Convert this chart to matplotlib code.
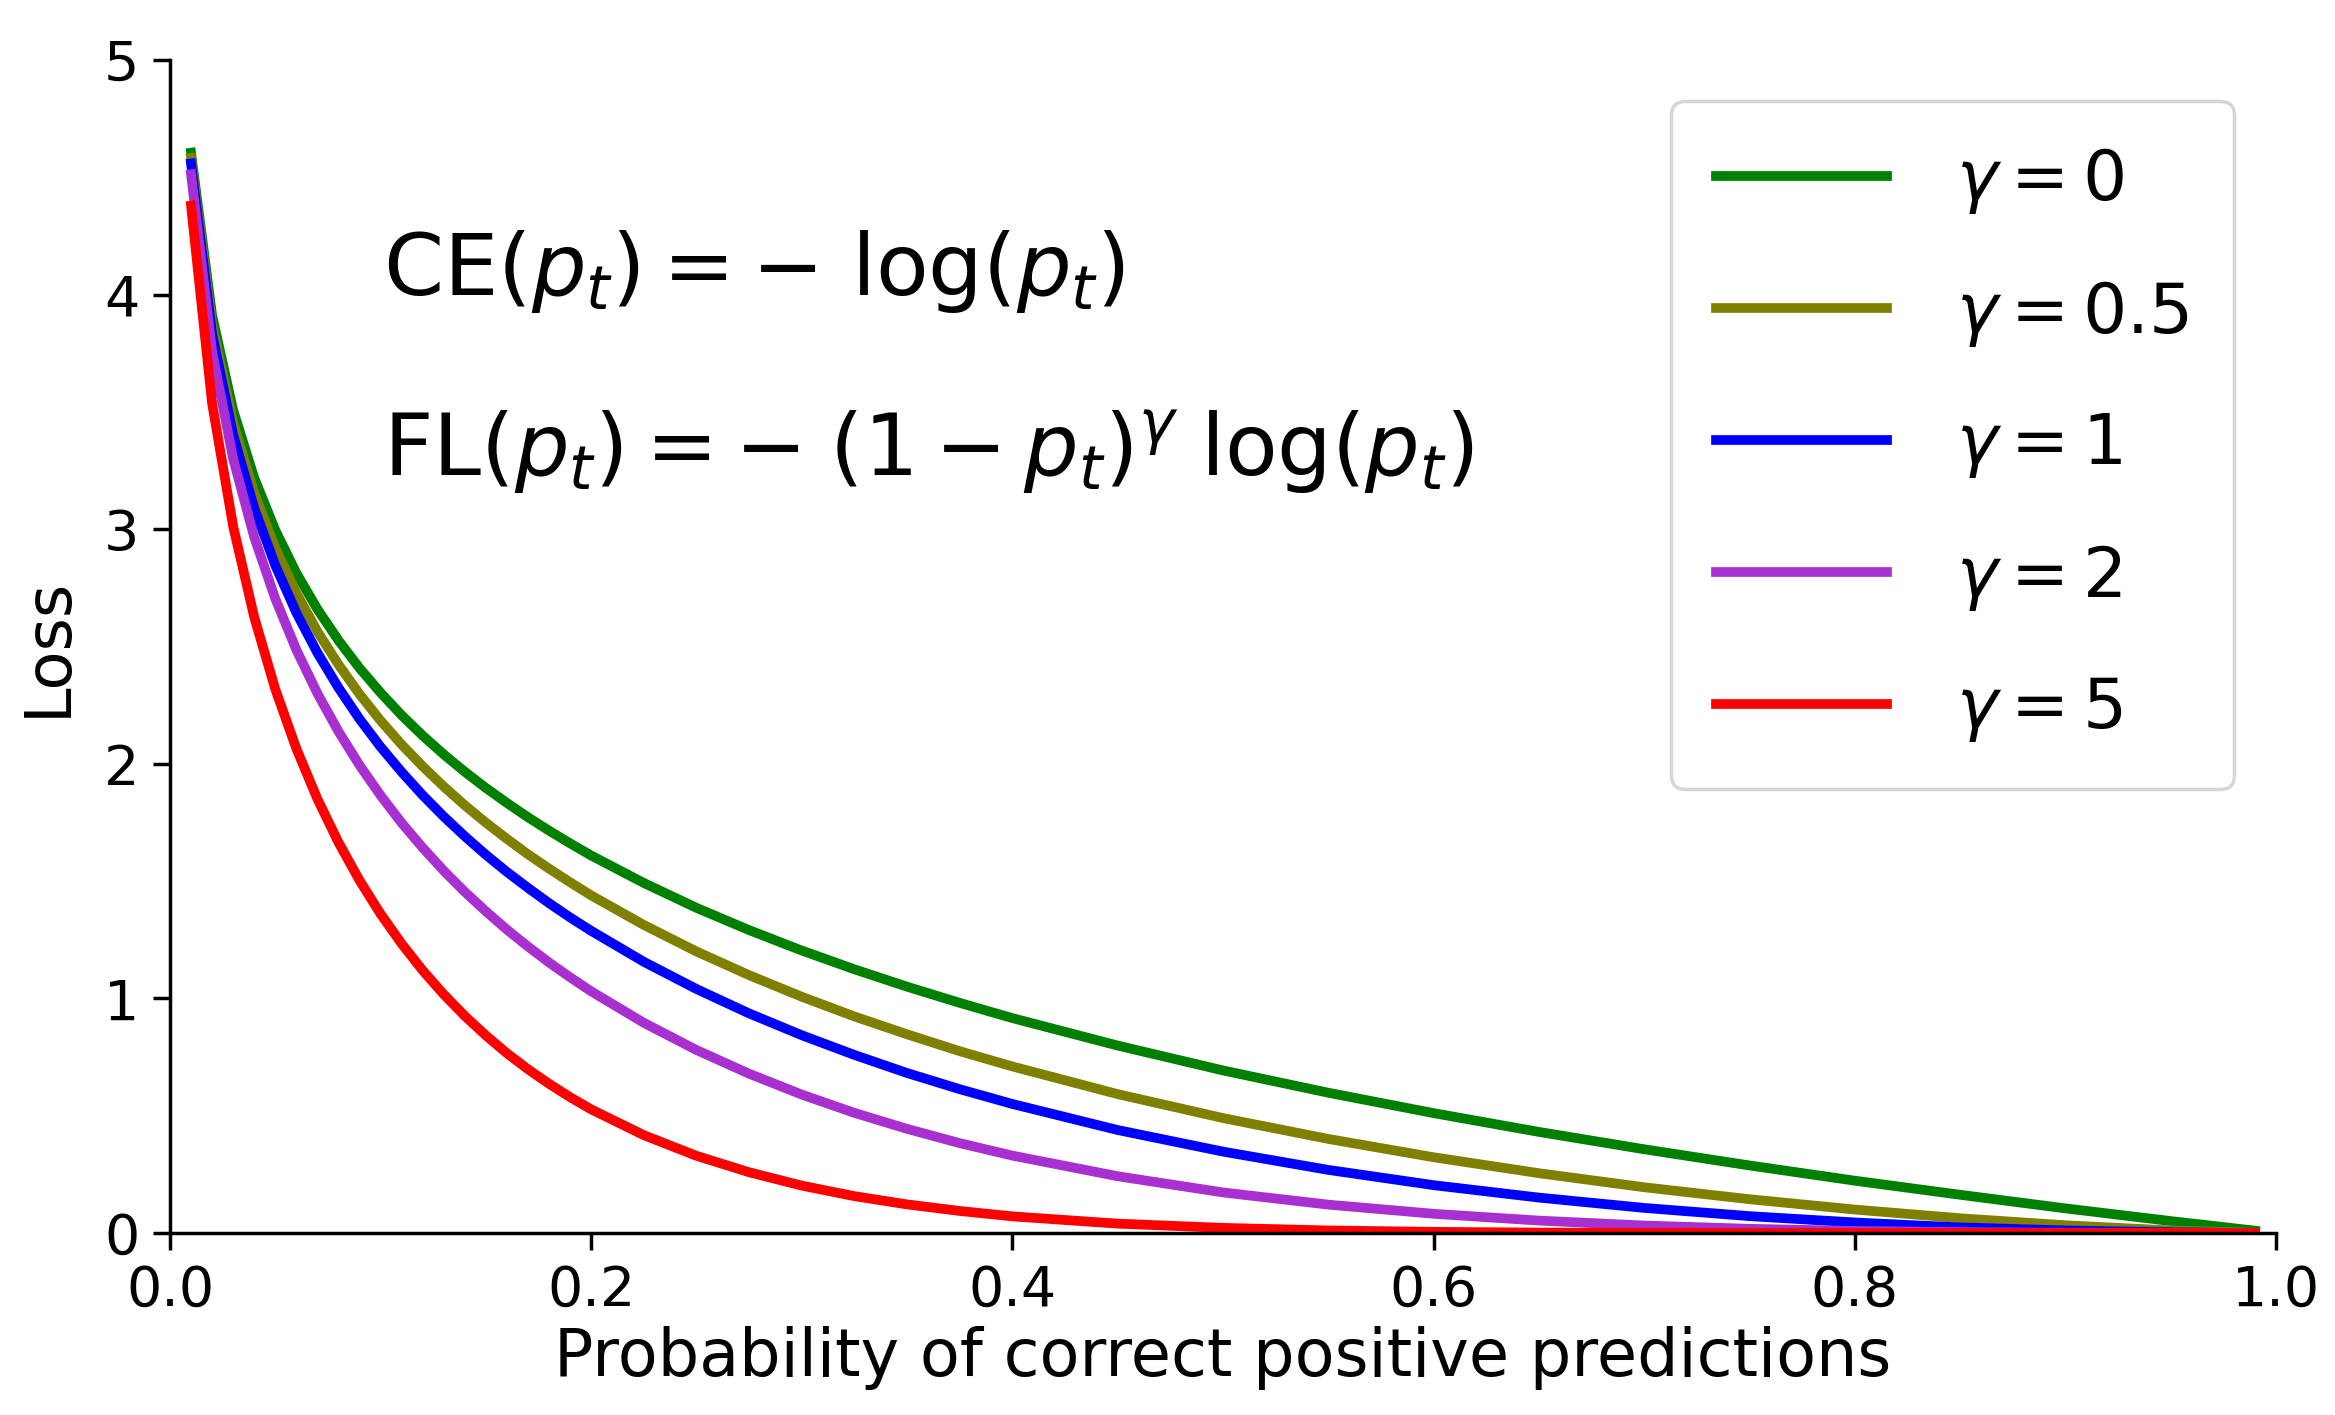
import matplotlib
matplotlib.use("Agg")
import matplotlib.pyplot as plt

# probability of the correct class
p_t = [0.01, 0.02, 0.03, 0.04, 0.05, 0.06, 0.07, 0.08, 0.09, 0.10,
       0.11, 0.12, 0.13, 0.14, 0.15, 0.16, 0.17, 0.18, 0.19, 0.20,
       0.225, 0.25, 0.275, 0.30, 0.325, 0.35, 0.375, 0.40,
       0.45, 0.50, 0.55, 0.60, 0.65, 0.70, 0.75, 0.80, 0.85, 0.90, 0.95, 0.99]

# loss values for each gamma (same x points as p_t)
loss_g0 = [4.605, 3.912, 3.507, 3.219, 2.996, 2.813, 2.659, 2.526, 2.408, 2.303,
           2.207, 2.120, 2.040, 1.966, 1.897, 1.833, 1.772, 1.715, 1.661, 1.609,
           1.492, 1.386, 1.291, 1.204, 1.124, 1.050, 0.981, 0.916,
           0.799, 0.693, 0.598, 0.511, 0.431, 0.357, 0.288, 0.223, 0.163, 0.105, 0.051, 0.010]
loss_g05 = [4.582, 3.873, 3.454, 3.154, 2.920, 2.728, 2.564, 2.423, 2.297, 2.184,
            2.082, 1.989, 1.903, 1.823, 1.749, 1.680, 1.614, 1.553, 1.495, 1.439,
            1.313, 1.200, 1.099, 1.007, 0.923, 0.847, 0.775, 0.710,
            0.592, 0.490, 0.401, 0.323, 0.255, 0.195, 0.144, 0.100, 0.063, 0.033, 0.011, 0.001]
loss_g1 = [4.559, 3.834, 3.402, 3.090, 2.846, 2.644, 2.473, 2.324, 2.191, 2.072,
           1.965, 1.866, 1.775, 1.691, 1.612, 1.539, 1.471, 1.406, 1.345, 1.288,
           1.156, 1.040, 0.936, 0.843, 0.759, 0.682, 0.613, 0.550,
           0.439, 0.347, 0.269, 0.204, 0.151, 0.107, 0.072, 0.045, 0.024, 0.011, 0.003, 0.000]
loss_g2 = [4.513, 3.757, 3.300, 2.966, 2.704, 2.486, 2.300, 2.138, 1.994, 1.865,
           1.748, 1.642, 1.544, 1.454, 1.371, 1.293, 1.221, 1.153, 1.090, 1.030,
           0.896, 0.780, 0.679, 0.590, 0.512, 0.444, 0.383, 0.330,
           0.242, 0.173, 0.121, 0.082, 0.053, 0.032, 0.018, 0.009, 0.004, 0.001, 0.000, 0.000]
loss_g5 = [4.379, 3.536, 3.012, 2.625, 2.318, 2.065, 1.850, 1.665, 1.503, 1.360,
           1.233, 1.119, 1.017, 0.925, 0.842, 0.766, 0.698, 0.636, 0.579, 0.527,
           0.417, 0.329, 0.259, 0.202, 0.157, 0.122, 0.094, 0.071,
           0.040, 0.022, 0.011, 0.005, 0.002, 0.001, 0.000, 0.000, 0.000, 0.000, 0.000, 0.000]

series = [loss_g0, loss_g05, loss_g1, loss_g2, loss_g5]
labels = [r"$\gamma = 0$", r"$\gamma = 0.5$", r"$\gamma = 1$", r"$\gamma = 2$", r"$\gamma = 5$"]
colors = ["#008000", "#808000", "#0000ff", "#a830d0", "#ff0000"]

fig = plt.figure(figsize=(23.35, 14.15), dpi=100)
ax = fig.add_axes([0.0728, 0.1286, 0.902, 0.829])

for y, lab, c in zip(series, labels, colors):
    ax.plot(p_t, y, color=c, linewidth=7, label=lab, solid_joinstyle="round")

ax.set_xlim(0, 1)
ax.set_ylim(0, 5)
ax.set_xticks([0.0, 0.2, 0.4, 0.6, 0.8, 1.0])
ax.set_yticks([0, 1, 2, 3, 4, 5])
ax.tick_params(labelsize=40, width=2.5, length=12, pad=10)
for s in ["top", "right"]:
    ax.spines[s].set_visible(False)
for s in ["left", "bottom"]:
    ax.spines[s].set_linewidth(2.5)

ax.set_xlabel("Probability of correct positive predictions", fontsize=47, labelpad=6)
ax.set_ylabel("Loss", fontsize=46, labelpad=18)

ax.text(0.101, 4.10, r"$\mathrm{CE}(p_t) = -\ \log(p_t)$", fontsize=62, va="center")
ax.text(0.101, 3.33, r"$\mathrm{FL}(p_t) = -\;(1-p_t)^{\gamma}\;\log(p_t)$", fontsize=62, va="center")

leg = ax.legend(loc="upper right", bbox_to_anchor=(0.98, 0.965), borderaxespad=0,
                fontsize=50, handlelength=2.45, handletextpad=1.0,
                labelspacing=0.9, borderpad=0.65)
leg.get_frame().set_linewidth(2.5)

fig.savefig("out.png", dpi=100)
